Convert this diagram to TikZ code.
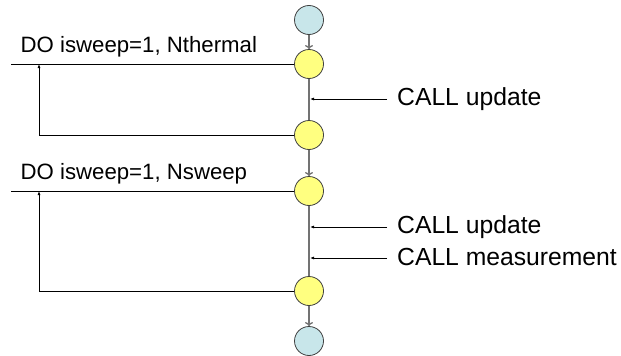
\documentclass[tikz,border=0pt]{standalone}
\usepackage{fontspec}
\setmainfont{Liberation Sans}
\usetikzlibrary{arrows.meta}
\definecolor{cblue}{RGB}{200,230,234}
\definecolor{cyellow}{RGB}{255,255,128}
\begin{document}
\begin{tikzpicture}[x=1pt,y=-1pt,
  state/.style={circle,draw=black!75,line width=0.8pt,minimum size=29pt,inner sep=0pt},
  endstate/.style={state,fill=cblue},
  stepstate/.style={state,fill=cyellow},
  flow/.style={draw=black!55,line width=1.3pt},
  flowarrow/.style={flow,-{To[length=4pt,width=8pt]}},
  hline/.style={draw=black,line width=0.8pt},
  looparrow/.style={hline,-{Latex[length=4pt,width=3pt]}},
  dotext/.style={anchor=base west,inner sep=0pt,font=\fontsize{22.2}{26}\selectfont},
  calltext/.style={anchor=base west,inner sep=0pt,font=\fontsize{24.7}{28}\selectfont}]
\useasboundingbox (0,0) rectangle (621,356);
\node[endstate] (s) at (309,20) {};
\node[stepstate] (a) at (309,64) {};
\node[stepstate] (b) at (309,135) {};
\node[stepstate] (c) at (309,191) {};
\node[stepstate] (d) at (309,291) {};
\node[endstate] (e) at (309,341) {};
\draw[flowarrow] (s) -- (a);
\draw[flow] (a) -- (b);
\draw[flowarrow] (b) -- (c);
\draw[flow] (c) -- (d);
\draw[flowarrow] (d) -- (e);
% loop 1
\coordinate (l1) at (11,64);
\coordinate (r1) at (39,64);
\coordinate (q1) at (39,135);
\draw[hline] (a.west) -- (l1);
\draw[looparrow] (b.west) -- (q1) -- (r1);
\node[dotext] (t1) at (20.5,52) {DO isweep=1, Nthermal};
% loop 2
\coordinate (l2) at (11,191);
\coordinate (r2) at (39,191);
\coordinate (q2) at (39,291);
\draw[hline] (c.west) -- (l2);
\draw[looparrow] (d.west) -- (q2) -- (r2);
\node[dotext] (t2) at (20.5,179) {DO isweep=1, Nsweep};
% calls
\coordinate (c1s) at (387,99);
\coordinate (c1e) at (310,99);
\draw[looparrow] (c1s) -- (c1e);
\node[calltext] (u1) at (397,105) {CALL update};
\coordinate (c2s) at (387,227);
\coordinate (c2e) at (310,227);
\draw[looparrow] (c2s) -- (c2e);
\node[calltext] (u2) at (397,233) {CALL update};
\coordinate (c3s) at (387,258);
\coordinate (c3e) at (310,258);
\draw[looparrow] (c3s) -- (c3e);
\node[calltext] (m) at (397,265) {CALL measurement};
\end{tikzpicture}
\end{document}
